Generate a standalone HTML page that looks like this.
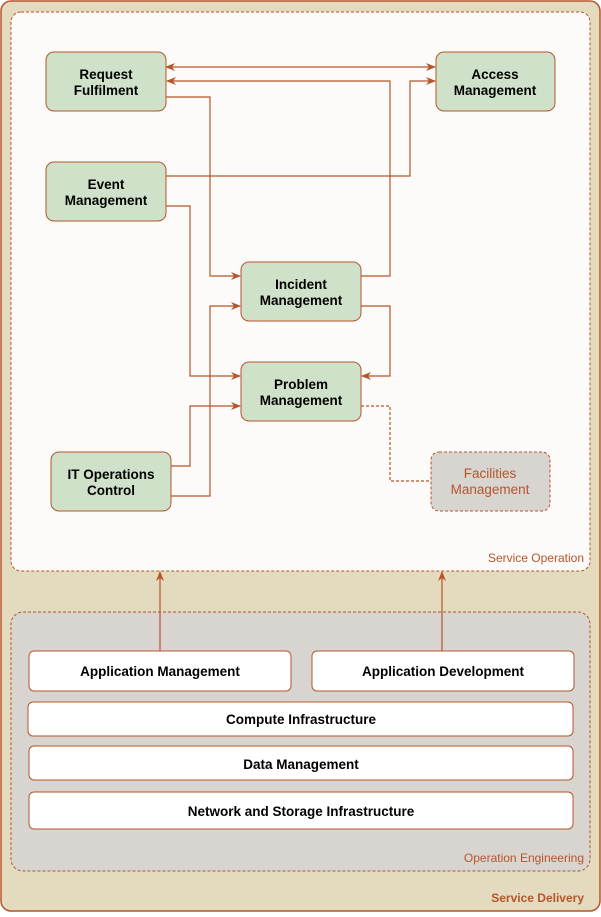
<!DOCTYPE html>
<html><head><meta charset="utf-8"><style>
body{margin:0;background:#fff}
svg text{font-family:"Liberation Sans",Arial,sans-serif}
</style></head><body>
<svg width="601" height="912" viewBox="0 0 601 912" xmlns="http://www.w3.org/2000/svg">
<defs>
<marker id="a" viewBox="0 0 10 10" refX="9" refY="5" markerWidth="10" markerHeight="10" orient="auto-start-reverse" markerUnits="userSpaceOnUse"><path d="M0,1 L10,5 L0,9 L3,5 Z" fill="#b5552a"/></marker>
</defs>
<rect x="1" y="1" width="599" height="910" rx="10" fill="#e4dbbe" stroke="#b5552a" stroke-width="1.5"/>
<rect x="11" y="12" width="579" height="559" rx="10" fill="#fcfbfa" stroke="#b5552a" stroke-dasharray="3,2"/>
<rect x="11" y="612" width="579" height="259" rx="12" fill="#d8d5d0" stroke="#b5552a" stroke-dasharray="3,2"/>
<g fill="none" stroke="#b5552a" stroke-width="1.2">
<path d="M166,67 H435" marker-start="url(#a)" marker-end="url(#a)"/>
<path d="M361,276 H390 V81 H167" marker-end="url(#a)"/>
<path d="M166,97 H210 V276 H240" marker-end="url(#a)"/>
<path d="M166,176 H410 V81 H435" marker-end="url(#a)"/>
<path d="M166,206 H190 V376 H240" marker-end="url(#a)"/>
<path d="M361,306 H390 V376 H362" marker-end="url(#a)"/>
<path d="M171,466 H190 V406 H240" marker-end="url(#a)"/>
<path d="M171,496 H210 V306 H240" marker-end="url(#a)"/>
<path d="M361,406 H390 V481 H431" stroke-dasharray="3,2"/>
<path d="M160,651 V572" marker-end="url(#a)"/>
<path d="M442,651 V572" marker-end="url(#a)"/>
</g>
<g fill="#cfe2c9" stroke="#b5552a" stroke-width="1">
<rect x="46" y="52" width="120" height="59" rx="8"/>
<rect x="436" y="52" width="119" height="59" rx="8"/>
<rect x="46" y="162" width="120" height="59" rx="8"/>
<rect x="241" y="262" width="120" height="59" rx="8"/>
<rect x="241" y="362" width="120" height="59" rx="8"/>
<rect x="51" y="452" width="120" height="59" rx="8"/>
</g>
<rect x="431" y="452" width="119" height="59" rx="8" fill="#d8d5d0" stroke="#b5552a" stroke-dasharray="3,2"/>
<g fill="#fff" stroke="#b5552a" stroke-width="1">
<rect x="29" y="651" width="262" height="40" rx="5"/>
<rect x="312" y="651" width="262" height="40" rx="5"/>
<rect x="28" y="702" width="545" height="34" rx="5"/>
<rect x="29" y="746" width="544" height="34" rx="5"/>
<rect x="29" y="792" width="544" height="37" rx="5"/>
</g>
<g font-size="13.5" font-weight="bold" fill="#000" text-anchor="middle">
<text x="106" y="79">Request</text><text x="106" y="95">Fulfilment</text>
<text x="495" y="79">Access</text><text x="495" y="95">Management</text>
<text x="106" y="189">Event</text><text x="106" y="205">Management</text>
<text x="301" y="289">Incident</text><text x="301" y="305">Management</text>
<text x="301" y="389">Problem</text><text x="301" y="405">Management</text>
<text x="111" y="479">IT Operations</text><text x="111" y="495">Control</text>
<text x="160" y="676">Application Management</text>
<text x="443" y="676">Application Development</text>
<text x="301" y="724">Compute Infrastructure</text>
<text x="301" y="769">Data Management</text>
<text x="301" y="816">Network and Storage Infrastructure</text>
</g>
<g font-size="13.5" fill="#b5552a" text-anchor="middle">
<text x="490" y="478">Facilities</text><text x="490" y="494">Management</text>
</g>
<g font-size="12" fill="#b5552a" text-anchor="end">
<text x="584" y="562">Service Operation</text>
<text x="584" y="862">Operation Engineering</text>
<text x="584" y="902" font-weight="bold">Service Delivery</text>
</g>
</svg>
</body></html>
